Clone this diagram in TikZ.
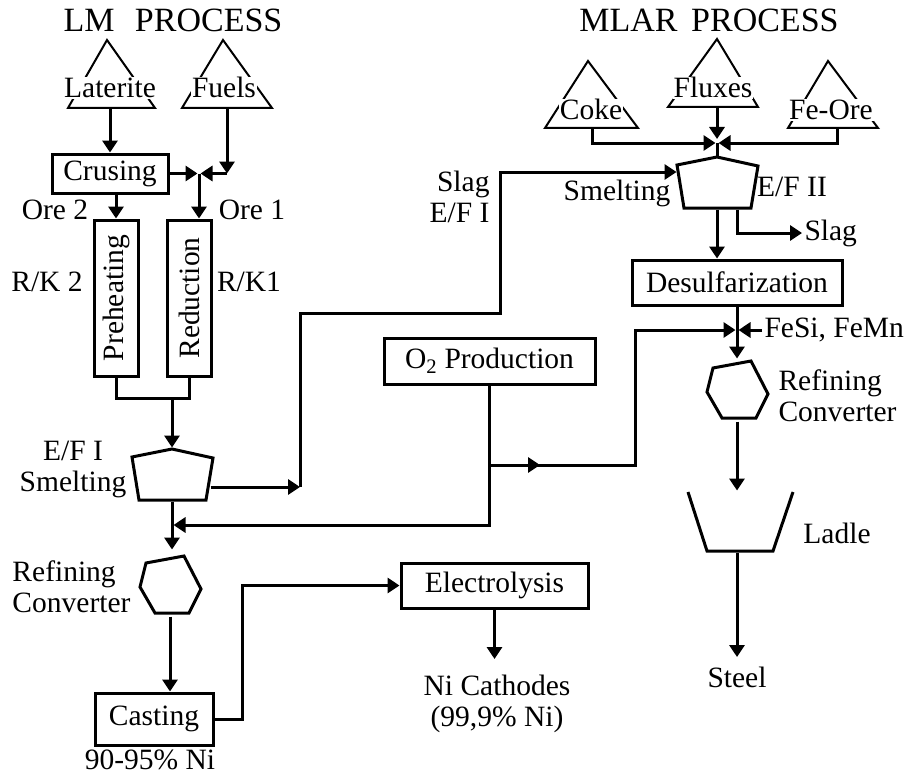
\documentclass[tikz,border=0pt]{standalone}
\usepackage{fontspec}
\setmainfont{Liberation Serif}
\usetikzlibrary{arrows.meta,calc}

\begin{document}
\begin{tikzpicture}[x=1pt,y=-1pt,line width=3pt,>={Triangle[length=12pt,width=15pt]},
  font=\fontsize{29.5}{31}\selectfont,
  box/.style={draw,inner sep=0pt},
  lbl/.style={inner sep=1pt,align=center},
  heap/.style={fill=white,inner sep=1pt,anchor=base},
  furn/.style={inner sep=0pt,minimum width=82pt,minimum height=51pt},
  conv/.style={inner sep=0pt,minimum width=62pt,minimum height=58pt},
  ttl/.style={font=\fontsize{34}{36}\selectfont}]
  \useasboundingbox (0,0) rectangle (914,776);
  % titles
  \node[ttl] (lmt) at (173,20) {LM\hspace{0.6em}PROCESS};
  \node[ttl] (mlt) at (709,20) {MLAR\hspace{0.4em}PROCESS};
  % input heaps
  \draw[line width=2pt] (68,108) -- (107,40) -- (155,108) -- cycle;
  \node[heap] (lat) at (110,98) {Laterite};
  \draw[line width=2pt] (182,108) -- (223,40) -- (272,108) -- cycle;
  \node[heap] (fuel) at (224,98) {Fuels};
  \draw[line width=2pt] (545,128) -- (588,61) -- (638,128) -- cycle;
  \node[heap] (coke) at (591,120) {Coke};
  \draw[line width=2pt] (668,107) -- (717,39) -- (758,107) -- cycle;
  \node[heap] (flux) at (713,98) {Fluxes};
  \draw[line width=2pt] (788,128) -- (828,61) -- (878,128) -- cycle;
  \node[heap] (feore) at (831,120) {Fe-Ore};
  \coordinate (latb) at (110,108);
  \coordinate (fuelb) at (227,108);
  \coordinate (cokeb) at (592,128);
  \coordinate (flxb) at (717,107);
  \coordinate (feb) at (837,128);

  % LM process
  \node[box,minimum width=116pt,minimum height=39pt] (crush) at (110,173.5) {Crusing};
  \node[box,minimum width=44pt,minimum height=156pt] (preh) at (116,298) {\rotatebox{90}{Preheating}};
  \node[box,minimum width=44pt,minimum height=156pt] (red) at (189,298) {\rotatebox{90}{Reduction}};
  \coordinate (j1) at (199,173.5);
  \draw[->] (latb) -- (crush.north);
  \draw[->] (fuelb) -- (fuelb |- j1);
  \draw[->,shorten >=1.5pt] (fuelb |- j1) -- (j1);
  \draw[->,shorten >=1.5pt] (crush.east) -- (j1);
  \draw[->] (j1) -- (j1 |- red.north);
  \draw[->] (preh.north |- crush.south) -- (preh.north);
  \node[lbl] (ore2) at (55,210) {Ore 2};
  \node[lbl] (ore1) at (252,210) {Ore 1};
  \node[lbl] (rk2) at (47,282) {R/K 2};
  \node[lbl] (rk1) at (249,282) {R/K1};

  \node[furn] (f1) at (172,474.5) {};
  \draw ($(f1)+(-40,-17.5)$) -- ($(f1)+(0,-25.5)$) -- ($(f1)+(41,-16.5)$)
    -- ($(f1)+(34,25.5)$) -- ($(f1)+(-33,25.5)$) -- cycle;
  \coordinate (j2) at (172,398);
  \draw (preh.south) |- (j2) -| (red.south);
  \draw[->] (j2) -- (f1.north);
  \node[lbl] (f1l) at (73,469) {E/F I\\Smelting};

  \node[conv] (hex1) at (170,586) {};
  \draw ($(hex1)+(-24,-23)$) -- ($(hex1)+(14,-30)$) -- ($(hex1)+(31,3)$)
    -- ($(hex1)+(19,27)$) -- ($(hex1)+(-15,27)$) -- ($(hex1)+(-30,1)$) -- cycle;
  \draw[->,shorten >=6pt] (f1.south) -- (f1.south |- hex1.north);
  \node[lbl,align=left,anchor=west] (rc1) at (10,587) {Refining\\Converter};

  \node[box,minimum width=118pt,minimum height=52pt] (cast) at (154,719) {Casting};
  \draw[->] (hex1.south) -- (hex1.south |- cast.north);
  \node[lbl] (pct) at (150,760) {90-95\% Ni};

  \node[box,minimum width=187pt,minimum height=45pt] (elec) at (494.5,585.5) {Electrolysis};
  \draw[->] (cast.east) -| (242,585.5) -- (elec.west);
  \node[lbl,anchor=north] (cath) at (497,673) {Ni Cathodes\\(99,9\% Ni)};
  \draw[->,shorten >=14pt] (elec.south) -- (elec.south |- cath.north);

  % slag of E/F I to MLAR
  \node[furn] (f2) at (717,182.5) {};
  \draw ($(f2)+(-40,-17.5)$) -- ($(f2)+(0,-25.5)$) -- ($(f2)+(41,-16.5)$)
    -- ($(f2)+(34,25.5)$) -- ($(f2)+(-33,25.5)$) -- cycle;
  \coordinate (s1) at (300,487);
  \draw[->] ($(f1.east)+(-4,12.5)$) -- (s1);
  \draw[->] (s1) |- (500,313) |- ($(f2.west)+(2,-10.5)$);
  \node[lbl,align=right,anchor=east] (slag1) at (492,197) {Slag\\E/F I};

  % MLAR process
  \coordinate (j3) at (717,143);
  \draw[->,shorten >=1.5pt] (cokeb) |- (j3);
  \draw[->,shorten >=1.5pt] (feb) |- (j3);
  \draw[->,shorten >=4pt] (flxb) -- (j3);
  \draw (j3) -- (f2.north);
  \node[lbl] (f2l) at (617,193) {Smelting};
  \node[lbl] (f2r) at (792,187) {E/F II};

  \node[box,minimum width=210pt,minimum height=45pt] (desul) at (737,282.5) {Desulfarization};
  \draw[->] (f2.south) -- (f2.south |- desul.north);
  \node[lbl,anchor=west] (slag2) at (802,233) {Slag};
  \draw[->] ($(f2.south)+(20,0)$) |- (slag2.west);

  \node[conv] (hex2) at (737,391) {};
  \draw ($(hex2)+(-24,-23)$) -- ($(hex2)+(14,-30)$) -- ($(hex2)+(31,3)$)
    -- ($(hex2)+(19,27)$) -- ($(hex2)+(-15,27)$) -- ($(hex2)+(-30,1)$) -- cycle;
  \coordinate (j4) at (737,330);
  \draw[->,shorten >=2pt] (desul.south) -- (hex2.north);
  \node[lbl,anchor=west] (fesi) at (762,330) {FeSi, FeMn};
  \draw[->,shorten >=1.5pt] (fesi.west) -- (j4);
  \node[lbl,align=left,anchor=west] (rc2) at (776,396) {Refining\\Converter};

  \node[inner sep=0pt,minimum width=105pt,minimum height=59pt] (ladle) at (737,521.5) {};
  \draw ($(ladle)+(-49,-29.5)$) -- ($(ladle)+(-30,29.5)$) -- ($(ladle)+(36,29.5)$)
    -- ($(ladle)+(56,-29.5)$);
  \draw[->] (hex2.south) -- (ladle.north);
  \node[lbl] (ladl) at (837,533) {Ladle};
  \node[lbl,anchor=north] (steel) at (737,665) {Steel};
  \draw[->,shorten >=8pt] (ladle.south) -- (steel);

  % oxygen
  \node[box,minimum width=211pt,minimum height=46pt] (o2) at (489.5,361) {O\textsubscript{2} Production};
  \coordinate (j5) at (172,525);
  \coordinate (j6) at (489.5,465);
  \draw[->,shorten >=1.5pt] (o2.south) |- (j5);
  \draw[->] (j6) -- (540,465);
  \draw[->,shorten >=1.5pt] (j6) -| (635,330) -- (j4);
\end{tikzpicture}
\end{document}
